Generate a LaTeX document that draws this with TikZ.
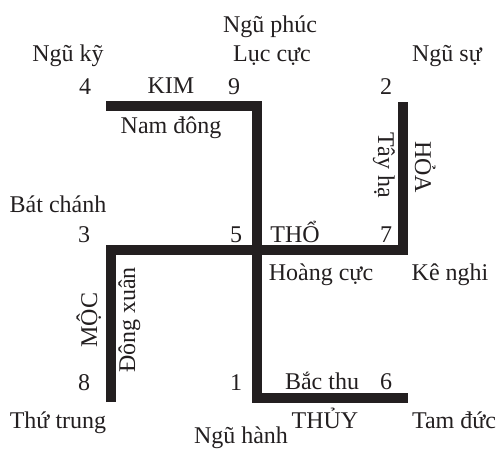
\documentclass[tikz,border=0pt]{standalone}
\usepackage{fontspec}
\setmainfont{Liberation Serif}
\definecolor{ink}{RGB}{35,31,32}
\begin{document}
\begin{tikzpicture}[x=1pt,y=-1pt,
  bar/.style={draw=ink, line width=10pt, line cap=butt, line join=miter},
  txt/.style={anchor=base, inner sep=0pt, outer sep=0pt, text=ink, font=\fontsize{24}{28}\selectfont},
  vdown/.style={txt, rotate=-90},
  vup/.style={txt, rotate=90}]
\useasboundingbox (0,0) rectangle (496,450);
% bar corners
\coordinate (a1) at (106,106);
\coordinate (a2) at (257,106);
\coordinate (a3) at (257,398);
\coordinate (a4) at (408,398);
\coordinate (b1) at (111,402);
\coordinate (b2) at (111,250);
\coordinate (b3) at (403,250);
\coordinate (b4) at (403,102);
\draw[bar] (a1) -- (a2) -- (a3) -- (a4);
\draw[bar] (b1) -- (b2) -- (b3) -- (b4);
% texts
\node[txt] (nguphuc) at (270,32) {Ngũ phúc};
\node[txt] (lucuc) at (272,61) {Lục cực};
\node[txt] (nguky) at (68,61) {Ngũ kỹ};
\node[txt] (ngusu) at (447,61) {Ngũ sự};
\node[txt] (n4) at (85,94) {4};
\node[txt] (kim) at (171,93) {KIM};
\node[txt] (n9) at (234,94) {9};
\node[txt] (n2) at (386,94) {2};
\node[txt] (namdong) at (171,133) {Nam đông};
\node[vdown] (tayha) at (378,165) {Tây hạ};
\node[vdown] (hoa) at (415,167) {HỎA};
\node[txt] (batchanh) at (58,212) {Bát chánh};
\node[txt] (n3) at (84,242) {3};
\node[txt] (n5) at (236,242) {5};
\node[txt] (tho) at (295,242) {THỔ};
\node[txt] (n7) at (386,242) {7};
\node[txt] (hoangcuc) at (321,280) {Hoàng cực};
\node[txt] (kenghi) at (450,280) {Kê nghi};
\node[vup] (moc) at (97,320) {MỘC};
\node[vup] (dongxuan) at (135,320) {Đông xuân};
\node[txt] (n8) at (84,390) {8};
\node[txt] (n1) at (236,390) {1};
\node[txt] (bacthu) at (322,389) {Bắc thu};
\node[txt] (n6) at (386,389) {6};
\node[txt] (thutrung) at (58,428) {Thứ trung};
\node[txt] (thuy) at (325,428) {THỦY};
\node[txt] (tamduc) at (454,428) {Tam đức};
\node[txt] (nguhanh) at (241,443) {Ngũ hành};
\end{tikzpicture}
\end{document}
